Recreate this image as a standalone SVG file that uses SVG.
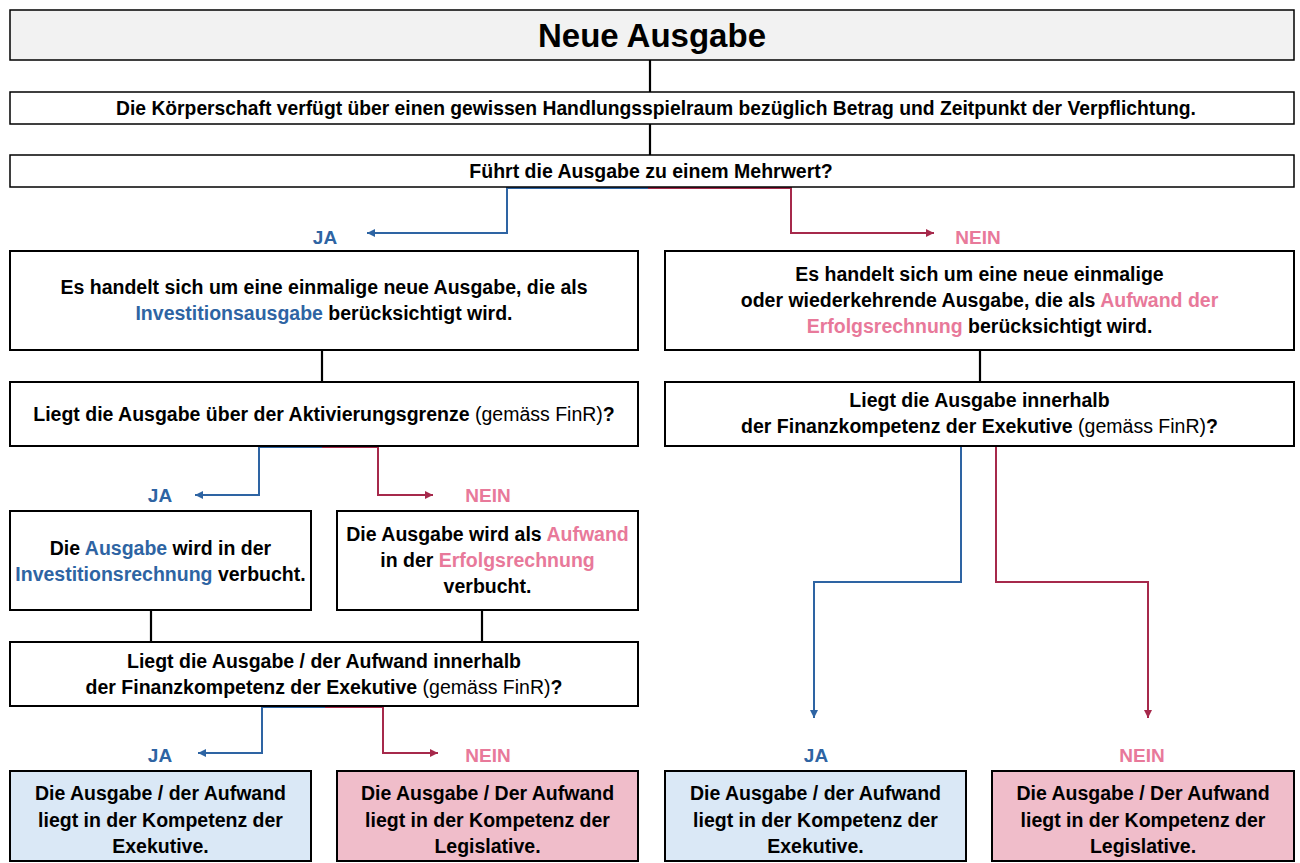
<svg xmlns="http://www.w3.org/2000/svg" width="1300" height="863" viewBox="0 0 1300 863">
<defs>
<style>
text{font-family:"Liberation Sans",Arial,Helvetica,sans-serif;font-weight:bold;font-size:19.5px;fill:#000;text-anchor:middle}
.n{font-weight:normal}
.b{fill:#2e64a3}
.p{fill:#e8799a}
.box{fill:#fff;stroke:#000;stroke-width:2}
.thin{stroke-width:1.5}
.fb{fill:#dae8f6}
.fp{fill:#f0bdca}
.cb{fill:none;stroke:#2e64a3;stroke-width:2}
.cr{fill:none;stroke:#a6294b;stroke-width:2}
.ck{fill:none;stroke:#000;stroke-width:2.2}
.lb{fill:#2e64a3;font-size:19px}
.lp{fill:#e8799a;font-size:19px}
</style>
<marker id="ab" viewBox="0 0 10 10" refX="10" refY="5" markerWidth="9" markerHeight="8" markerUnits="userSpaceOnUse" orient="auto"><path d="M0,0 L10,5 L0,10 z" fill="#2e64a3"/></marker>
<marker id="ar" viewBox="0 0 10 10" refX="10" refY="5" markerWidth="9" markerHeight="8" markerUnits="userSpaceOnUse" orient="auto"><path d="M0,0 L10,5 L0,10 z" fill="#a6294b"/></marker>
</defs>
<rect width="1300" height="863" fill="#fff"/>

<g id="connectors">
<path class="ck" d="M650,60 V92 M650,124 V155"/>
<path class="cb" d="M648,188 H507 V233 H367" marker-end="url(#ab)"/>
<path class="cr" d="M648,188 H791 V233 H934" marker-end="url(#ar)"/>
<path class="ck" d="M322,350 V382 M980,350 V382"/>
<path class="cb" d="M323,447 H259 V495 H195" marker-end="url(#ab)"/>
<path class="cr" d="M322,447 H378 V495 H433" marker-end="url(#ar)"/>
<path class="ck" d="M151,610 V642 M482,610 V642"/>
<path class="cb" d="M326,707 H262 V753 H198" marker-end="url(#ab)"/>
<path class="cr" d="M325,707 H383 V753 H438" marker-end="url(#ar)"/>
<path class="cb" d="M961,447 V582 H814 V718" marker-end="url(#ab)"/>
<path class="cr" d="M996,447 V582 H1148 V718" marker-end="url(#ar)"/>
<text class="lb" x="325" y="244">JA</text>
<text class="lp" x="978" y="244">NEIN</text>
<text class="lb" x="160" y="502">JA</text>
<text class="lp" x="488" y="502">NEIN</text>
<text class="lb" x="160" y="762">JA</text>
<text class="lp" x="488" y="762">NEIN</text>
<text class="lb" x="816" y="762">JA</text>
<text class="lp" x="1142" y="762">NEIN</text>
</g>

<g id="n-neue-ausgabe">
<rect class="box thin" x="10" y="10" width="1284" height="50" style="fill:#f2f2f2"/>
<text x="652" y="47" style="font-size:33px">Neue Ausgabe</text>
</g>
<g id="n-koerperschaft">
<rect class="box thin" x="10" y="92" width="1284" height="32"/>
<text x="656" y="114.5" style="font-size:19.3px">Die Körperschaft verfügt über einen gewissen Handlungsspielraum bezüglich Betrag und Zeitpunkt der Verpflichtung.</text>
</g>
<g id="n-mehrwert">
<rect class="box thin" x="10" y="155" width="1284" height="32"/>
<text x="651" y="178">Führt die Ausgabe zu einem Mehrwert?</text>
</g>

<g id="n-invest">
<rect class="box" x="10" y="251" width="628" height="99"/>
<text x="324" y="294">Es handelt sich um eine einmalige neue Ausgabe, die als</text>
<text x="324" y="320"><tspan class="b">Investitionsausgabe</tspan> berücksichtigt wird.</text>
</g>
<g id="n-aufwand-er">
<rect class="box" x="665" y="251" width="629" height="99"/>
<text x="979.5" y="281">Es handelt sich um eine neue einmalige</text>
<text x="979.5" y="307">oder wiederkehrende Ausgabe, die als <tspan class="p">Aufwand der</tspan></text>
<text x="979.5" y="333"><tspan class="p">Erfolgsrechnung</tspan> berücksichtigt wird.</text>
</g>

<g id="n-aktivierung">
<rect class="box" x="10" y="382" width="628" height="64"/>
<text x="324" y="421">Liegt die Ausgabe über der Aktivierungsgrenze<tspan class="n"> (gemäss FinR)</tspan>?</text>
</g>
<g id="n-finanzkompetenz-r">
<rect class="box" x="665" y="382" width="629" height="64"/>
<text x="979.5" y="407">Liegt die Ausgabe innerhalb</text>
<text x="979.5" y="433">der Finanzkompetenz der Exekutive<tspan class="n"> (gemäss FinR)</tspan>?</text>
</g>

<g id="n-invrechnung">
<rect class="box" x="10" y="511" width="301" height="99"/>
<text x="160.5" y="554.5">Die <tspan class="b">Ausgabe</tspan> wird in der</text>
<text x="160.5" y="580.5"><tspan class="b">Investitionsrechnung</tspan> verbucht.</text>
</g>
<g id="n-erfolgsrechnung">
<rect class="box" x="337" y="511" width="301" height="99"/>
<text x="487.5" y="541">Die Ausgabe wird als <tspan class="p">Aufwand</tspan></text>
<text x="487.5" y="567">in der <tspan class="p">Erfolgsrechnung</tspan></text>
<text x="487.5" y="593">verbucht.</text>
</g>

<g id="n-finanzkompetenz-l">
<rect class="box" x="10" y="642" width="628" height="64"/>
<text x="324" y="667.5">Liegt die Ausgabe / der Aufwand innerhalb</text>
<text x="324" y="693.5">der Finanzkompetenz der Exekutive<tspan class="n"> (gemäss FinR)</tspan>?</text>
</g>

<g id="n-exe-l">
<rect class="box fb" x="10" y="771" width="301" height="90"/>
<text x="160.5" y="800">Die Ausgabe / der Aufwand</text>
<text x="160.5" y="826.5">liegt in der Kompetenz der</text>
<text x="160.5" y="853">Exekutive.</text>
</g>
<g id="n-leg-l">
<rect class="box fp" x="337" y="771" width="301" height="90"/>
<text x="487.5" y="800">Die Ausgabe / Der Aufwand</text>
<text x="487.5" y="826.5">liegt in der Kompetenz der</text>
<text x="487.5" y="853">Legislative.</text>
</g>
<g id="n-exe-r">
<rect class="box fb" x="665" y="771" width="301" height="90"/>
<text x="815.5" y="800">Die Ausgabe / der Aufwand</text>
<text x="815.5" y="826.5">liegt in der Kompetenz der</text>
<text x="815.5" y="853">Exekutive.</text>
</g>
<g id="n-leg-r">
<rect class="box fp" x="992" y="771" width="302" height="90"/>
<text x="1143" y="800">Die Ausgabe / Der Aufwand</text>
<text x="1143" y="826.5">liegt in der Kompetenz der</text>
<text x="1143" y="853">Legislative.</text>
</g>
</svg>
